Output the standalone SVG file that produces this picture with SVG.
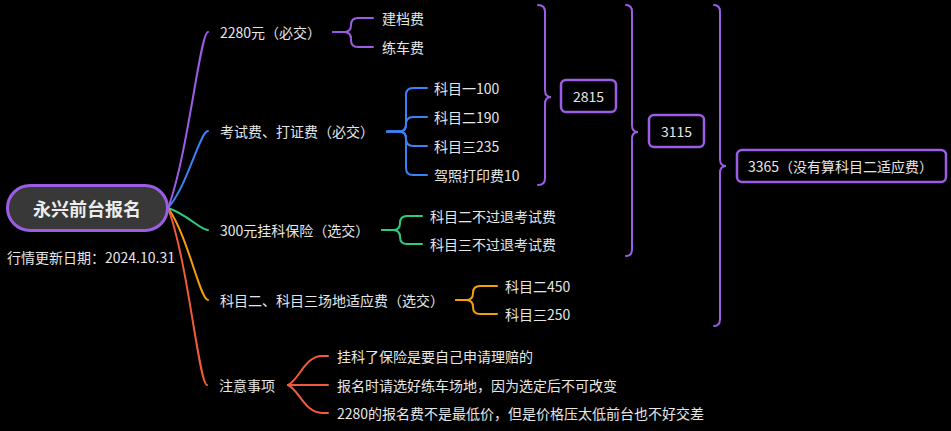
<svg xmlns="http://www.w3.org/2000/svg" width="951" height="431" viewBox="0 0 951 431">
<style>
text{font-family:"Noto Sans CJK SC","Noto Sans",sans-serif;font-size:14px;fill:#e6e6e6;dominant-baseline:central}
.c{fill:none;stroke-width:2;stroke-linecap:round}
.pu{stroke:#9c5ce6}.bl{stroke:#3b82f6}.gr{stroke:#2ecc80}.or{stroke:#f59e0b}.rd{stroke:#f25a3c}
.box{fill:#000;stroke:#9c5ce6;stroke-width:2.5}
.root{font-size:18px;font-weight:bold;text-anchor:middle;fill:#ececec}
</style>
<rect width="951" height="431" fill="#000"/>
<g id="connectors">
<path class="c pu" d="M168,208 C188,155.2 200,32 208,32"/>
<path class="c bl" d="M168,208 C188,184.9 200,131 208,131"/>
<path class="c gr" d="M168,208 C188,214.6 200,230 208,230"/>
<path class="c or" d="M168,208 C188,235.6 200,300 208,300"/>
<path class="c rd" d="M168,208 C188,261.1 199,385 207,385"/>
<path class="c pu" d="M333,32 H344 Q351,32 351,25 Q351,18 358,18 H373"/>
<path class="c pu" d="M333,32 H344 Q351,32 351,39 V40 Q351,47 358,47 H373"/>
<path class="c bl" d="M387,131.5 H399 Q406,131.5 406,124.5 V95 Q406,88 413,88 H427"/>
<path class="c bl" d="M387,131.5 H399 Q406,131.5 406,124.5 Q406,117 413,117 H427"/>
<path class="c bl" d="M387,131.5 H399 Q406,131.5 406,138.5 Q406,146 413,146 H427"/>
<path class="c bl" d="M387,131.5 H399 Q406,131.5 406,138.5 V168 Q406,175 413,175 H427"/>
<path class="c gr" d="M382,230 H393 Q400,230 400,223 Q400,216 407,216 H422"/>
<path class="c gr" d="M382,230 H393 Q400,230 400,237 Q400,244 407,244 H422"/>
<path class="c or" d="M456,300 H466 Q473,300 473,293 Q473,286 480,286 H497"/>
<path class="c or" d="M456,300 H466 Q473,300 473,307 Q473,314 480,314 H497"/>
<path class="c rd" d="M288,385 C299,380 305,356 322,356 H328"/>
<path class="c rd" d="M288,385 H328"/>
<path class="c rd" d="M288,385 C299,390 305,413 322,413 H328"/>
<path class="c pu" d="M538,5 Q545,5 545,12 V90 Q545,97 551,97 Q545,97 545,104 V178 Q545,185 538,185"/>
<path class="c pu" d="M626,5 Q632,5 632,12 V125 Q632,132 638,132 Q632,132 632,139 V249 Q632,256 626,256"/>
<path class="c pu" d="M714,5 Q720,5 720,12 V159 Q720,166 726,166 Q720,166 720,173 V319 Q720,326 714,326"/>
</g>
<g id="root">
<rect x="7.5" y="185.5" width="160" height="45" rx="22.5" fill="#383838" stroke="#9c5ce6" stroke-width="3"/>
<text class="root" x="87" y="208">永兴前台报名</text>
</g>
<g id="date"><text x="7" y="257">行情更新日期：2024.10.31</text></g>
<g id="n2280"><text x="220" y="32">2280元（必交）</text></g>
<g id="n-jd"><text x="382" y="18">建档费</text></g>
<g id="n-lc"><text x="382" y="47">练车费</text></g>
<g id="n-ks"><text x="220" y="131">考试费、打证费（必交）</text></g>
<g id="n-k1"><text x="434" y="88">科目一100</text></g>
<g id="n-k2"><text x="434" y="117">科目二190</text></g>
<g id="n-k3"><text x="434" y="146">科目三235</text></g>
<g id="n-jz"><text x="434" y="175">驾照打印费10</text></g>
<g id="n-bx"><text x="220" y="230">300元挂科保险（选交）</text></g>
<g id="n-bx1"><text x="430" y="216">科目二不过退考试费</text></g>
<g id="n-bx2"><text x="430" y="244">科目三不过退考试费</text></g>
<g id="n-cd"><text x="220" y="300">科目二、科目三场地适应费（选交）</text></g>
<g id="n-cd1"><text x="505" y="286">科目二450</text></g>
<g id="n-cd2"><text x="505" y="314">科目三250</text></g>
<g id="n-zy"><text x="219" y="385">注意事项</text></g>
<g id="n-zy1"><text x="337" y="356">挂科了保险是要自己申请理赔的</text></g>
<g id="n-zy2"><text x="337" y="385">报名时请选好练车场地，因为选定后不可改变</text></g>
<g id="n-zy3"><text x="337" y="413">2280的报名费不是最低价，但是价格压太低前台也不好交差</text></g>
<g id="s2815"><rect class="box" x="561" y="80" width="55" height="32" rx="5"/><text x="588.5" y="96" text-anchor="middle">2815</text></g>
<g id="s3115"><rect class="box" x="649" y="115" width="55" height="32" rx="5"/><text x="676.5" y="131" text-anchor="middle">3115</text></g>
<g id="s3365"><rect class="box" x="737" y="150" width="209" height="32" rx="5"/><text x="748" y="166">3365（没有算科目二适应费）</text></g>
</svg>
